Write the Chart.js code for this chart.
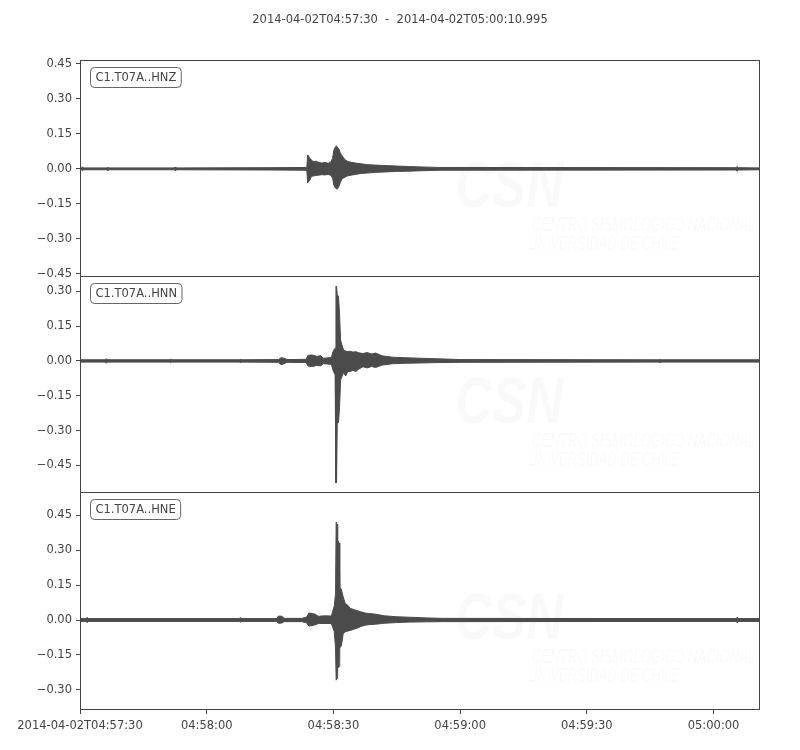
<!DOCTYPE html>
<html>
<head>
<meta charset="utf-8">
<script src="https://cdn.jsdelivr.net/npm/chart.js@4.4.1/dist/chart.umd.min.js"></script>
<style>
  body { margin: 0; background: #fff; }
  #plots { position: relative; width: 800px; height: 750px; }
  #plots canvas { position: absolute; left: 0; }
</style>
</head>
<body>
<div id="plots"></div>
<script>
var title = '2014-04-02T04:57:30  -  2014-04-02T05:00:10.995';

// x axis: seconds after 04:57:30
var xMax = 160.995;
var xTicks = [0, 30, 60, 90, 120, 150];
var xTickLabels = ['2014-04-02T04:57:30', '04:58:00', '04:58:30', '04:59:00', '04:59:30', '05:00:00'];

// Envelope of each trace (upper / lower value at each time).
var hnzTime = [0, 0.4, 0.6, 0.8, 6.4, 6.6, 6.8, 22.3, 22.5, 22.7, 45,
    53.7, 53.9, 54.1, 54.4, 54.7, 55.0, 55.4, 55.9, 56.5, 57.2, 58.0, 58.8,
    59.4, 59.8, 60.1, 60.4, 60.7, 61.0, 61.3, 61.6, 61.9, 62.3, 62.8, 63.4,
    64.2, 65.2, 66.5, 68.0, 70.0, 72.5, 75.0, 78.0, 81.0, 85.0, 155.3, 155.6, 155.9, 161];
var hnzHigh = [0.004, 0.004, 0.009, 0.004, 0.004, 0.008, 0.004, 0.004, 0.008, 0.004, 0.005,
    0.006, 0.060, 0.055, 0.045, 0.040, 0.035, 0.030, 0.033, 0.028, 0.025, 0.027, 0.024,
    0.030, 0.045, 0.080, 0.092, 0.099, 0.090, 0.085, 0.070, 0.060, 0.050, 0.038, 0.032,
    0.028, 0.025, 0.022, 0.018, 0.016, 0.014, 0.012, 0.010, 0.008, 0.006, 0.005, 0.010, 0.005, 0.004];
var hnzLow = [-0.004, -0.004, -0.008, -0.004, -0.004, -0.007, -0.004, -0.004, -0.007, -0.004, -0.005,
    -0.006, -0.060, -0.055, -0.050, -0.035, -0.032, -0.030, -0.028, -0.027, -0.025, -0.026, -0.024,
    -0.028, -0.040, -0.070, -0.080, -0.086, -0.085, -0.075, -0.060, -0.047, -0.040, -0.035, -0.030,
    -0.027, -0.024, -0.020, -0.018, -0.015, -0.013, -0.011, -0.010, -0.008, -0.006, -0.005, -0.010, -0.005, -0.004];

var hnnTime = [0, 6.0, 6.2, 6.4, 21.3, 21.5, 21.7, 37.7, 37.9, 38.1,
    47.0, 47.6, 48.3, 49.0, 53.5, 54.0, 55.0, 56.0, 57.0, 57.6,
    58.5, 59.5, 60.0, 60.4, 60.6, 60.75, 60.9, 61.2, 61.45, 61.7, 62.0, 62.4,
    62.9, 63.4, 64.0, 64.6, 65.3, 66.0, 67.0, 68.0, 69.0, 70.0, 71.5, 74.0,
    77.0, 80.0, 85.0, 90.0, 137.1, 137.3, 137.5, 161];
var hnnHigh = [0.005, 0.005, 0.010, 0.005, 0.005, 0.009, 0.005, 0.005, 0.007, 0.005,
    0.006, 0.014, 0.012, 0.006, 0.007, 0.024, 0.026, 0.020, 0.022, 0.012,
    0.013, 0.015, 0.045, 0.055, 0.323, 0.320, 0.285, 0.280, 0.200, 0.090, 0.070, 0.047,
    0.043, 0.040, 0.042, 0.038, 0.040, 0.035, 0.032, 0.036, 0.030, 0.034, 0.022, 0.016,
    0.014, 0.012, 0.009, 0.006, 0.005, 0.008, 0.005, 0.005];
var hnnLow = [-0.005, -0.005, -0.010, -0.005, -0.005, -0.008, -0.005, -0.005, -0.007, -0.005,
    -0.006, -0.016, -0.012, -0.006, -0.007, -0.022, -0.024, -0.020, -0.021, -0.012,
    -0.013, -0.015, -0.045, -0.060, -0.526, -0.520, -0.270, -0.265, -0.200, -0.082, -0.068, -0.050,
    -0.065, -0.045, -0.046, -0.040, -0.046, -0.035, -0.025, -0.030, -0.024, -0.028, -0.018, -0.012,
    -0.010, -0.009, -0.007, -0.006, -0.005, -0.008, -0.005, -0.005];

var hneTime = [0, 1.5, 1.7, 1.9, 37.7, 37.9, 38.1, 46.5, 47.0, 47.8, 48.3,
    52.5, 53.6, 54.2, 55.0, 55.8, 56.4, 58.0, 59.5, 60.2, 60.5, 60.65, 60.85,
    61.0, 61.35, 61.5, 61.9, 62.3, 62.8, 63.3, 64.0, 64.8, 65.6, 66.5, 67.5,
    68.5, 70.0, 72.0, 75.0, 78.0, 82.0, 86.0, 155.3, 155.6, 155.9, 161];
var hneHigh = [0.006, 0.006, 0.012, 0.006, 0.006, 0.010, 0.006, 0.006, 0.017, 0.016, 0.007,
    0.007, 0.012, 0.030, 0.028, 0.024, 0.016, 0.018, 0.017, 0.060, 0.115, 0.420, 0.410,
    0.343, 0.330, 0.142, 0.130, 0.100, 0.070, 0.065, 0.050, 0.045, 0.040, 0.035, 0.030,
    0.028, 0.025, 0.018, 0.014, 0.012, 0.009, 0.007, 0.006, 0.012, 0.006, 0.006];
var hneLow = [-0.006, -0.006, -0.012, -0.006, -0.006, -0.009, -0.006, -0.006, -0.014, -0.013, -0.007,
    -0.007, -0.012, -0.026, -0.024, -0.020, -0.015, -0.015, -0.015, -0.050, -0.120, -0.258, -0.250,
    -0.206, -0.200, -0.120, -0.110, -0.060, -0.050, -0.048, -0.045, -0.040, -0.035, -0.028, -0.022,
    -0.020, -0.018, -0.014, -0.011, -0.009, -0.008, -0.007, -0.006, -0.012, -0.006, -0.006];

// y ranges and ticks (equal scale on all traces)
var hnzRange = [-0.464, 0.467];
var hnnRange = [-0.569, 0.366];
var hneRange = [-0.386, 0.549];
var hnzTicks = [0.45, 0.30, 0.15, 0, -0.15, -0.30, -0.45];
var hnnTicks = [0.30, 0.15, 0, -0.15, -0.30, -0.45];
var hneTicks = [0.45, 0.30, 0.15, 0, -0.15, -0.30];

var traces = [
    {label: 'C1.T07A..HNZ', time: hnzTime, high: hnzHigh, low: hnzLow, range: hnzRange, ticks: hnzTicks},
    {label: 'C1.T07A..HNN', time: hnnTime, high: hnnHigh, low: hnnLow, range: hnnRange, ticks: hnnTicks},
    {label: 'C1.T07A..HNE', time: hneTime, high: hneHigh, low: hneLow, range: hneRange, ticks: hneTicks},
];

// canvas placement for each panel
var layout = [
    {top: 0, height: 277, padTop: 60, showX: false},
    {top: 276, height: 217, padTop: 0, showX: false},
    {top: 492, height: 258, padTop: 0, showX: true},
];

var ink = '#444444';
var traceColor = '#4b4b4b';
var markColor = 'rgba(0,0,0,0.022)';
var fontFamily = '"DejaVu Sans", sans-serif';
var fontSize = 11.5;

function fmtTick(v) {
    return (v < 0 ? '\u2212' : '') + Math.abs(v).toFixed(2);
}

function points(xs, ys) {
    var data = [];
    for (var i = 0; i < xs.length; i++) {
        data.push({x: xs[i], y: ys[i]});
    }
    return data;
}

function drawSquashed(ctx, text, x, y, width, size) {
    ctx.save();
    ctx.fillStyle = markColor;
    ctx.font = 'italic ' + size + 'px "Liberation Sans", sans-serif';
    var w = ctx.measureText(text).width;
    ctx.translate(x, y);
    ctx.scale(width / w, 1);
    ctx.fillText(text, 0, 0);
    ctx.restore();
}

// frame, label box, title and faint watermark
var decoPlugin = {
    id: 'deco',
    beforeDatasetsDraw: function(chart) {
        var a = chart.chartArea;
        var ctx = chart.ctx;
        ctx.save();
        ctx.fillStyle = markColor;
        ctx.font = 'italic bold 64px "Liberation Sans", sans-serif';
        ctx.translate(a.left + 375, a.top + 147);
        ctx.scale(0.8, 1);
        ctx.fillText('CSN', 0, 0);
        ctx.restore();
        drawSquashed(ctx, 'CENTRO SISMOLÓGICO NACIONAL', a.left + 452, a.top + 171, 223, 20);
        drawSquashed(ctx, 'UNIVERSIDAD DE CHILE', a.left + 448, a.top + 190, 152, 20);
    },
    afterDraw: function(chart) {
        var a = chart.chartArea;
        var ctx = chart.ctx;
        var opts = chart.options.plugins.deco;
        ctx.save();
        ctx.strokeStyle = ink;
        ctx.lineWidth = 1;
        ctx.strokeRect(a.left + 0.5, a.top + 0.5, a.right - a.left - 1, a.bottom - a.top - 1);

        ctx.font = fontSize + 'px ' + fontFamily;
        ctx.textBaseline = 'middle';
        var tw = ctx.measureText(opts.label).width;
        var bx = a.left + 10.5, by = a.top + 7.5, bw = tw + 10, bh = 20;
        ctx.beginPath();
        ctx.roundRect(bx, by, bw, bh, 4);
        ctx.fillStyle = '#ffffff';
        ctx.fill();
        ctx.strokeStyle = '#666666';
        ctx.stroke();
        ctx.fillStyle = ink;
        ctx.fillText(opts.label, bx + 5, by + bh / 2 + 0.5);

        if (opts.title) {
            ctx.textAlign = 'center';
            ctx.fillText(opts.title, 400, 20);
        }
        ctx.restore();
    }
};

function addPanel(elem, trace, place, idx) {
    var canvas = document.createElement('canvas');
    canvas.width = 800;
    canvas.height = place.height;
    canvas.style.top = place.top + 'px';
    elem.appendChild(canvas);

    var tickFont = {family: fontFamily, size: fontSize};
    var conf = {
        type: 'line',
        data: {
            datasets: [
                {data: points(trace.time, trace.high), fill: '+1'},
                {data: points(trace.time, trace.low), fill: false},
            ]
        },
        options: {
            responsive: false,
            animation: false,
            devicePixelRatio: 1,
            layout: {padding: {top: place.padTop, right: 40, bottom: 0, left: 0}},
            elements: {
                point: {radius: 0},
                line: {tension: 0, borderWidth: 1, borderColor: traceColor, backgroundColor: traceColor},
            },
            plugins: {
                legend: {display: false},
                tooltip: {enabled: false},
                deco: {label: trace.label, title: idx == 0 ? title : null},
            },
            scales: {
                x: {
                    type: 'linear',
                    display: place.showX,
                    min: 0,
                    max: xMax,
                    afterBuildTicks: function(scale) {
                        scale.ticks = xTicks.map(function(v) { return {value: v}; });
                    },
                    afterFit: function(scale) {
                        if (place.showX) {
                            scale.height = 40;
                        }
                    },
                    ticks: {
                        autoSkip: false,
                        maxRotation: 0,
                        padding: 5,
                        color: ink,
                        font: tickFont,
                        callback: function(v, i) { return xTickLabels[i]; },
                    },
                    grid: {drawOnChartArea: false, tickLength: 4, color: ink},
                    border: {display: false},
                },
                y: {
                    type: 'linear',
                    min: trace.range[0],
                    max: trace.range[1],
                    afterBuildTicks: function(scale) {
                        scale.ticks = trace.ticks.map(function(v) { return {value: v}; });
                    },
                    afterFit: function(scale) {
                        // panels touch each other: no room for overhanging labels
                        scale.width = 80;
                        scale.paddingTop = 0;
                        scale.paddingBottom = 0;
                    },
                    ticks: {
                        autoSkip: false,
                        padding: 4,
                        color: ink,
                        font: tickFont,
                        callback: fmtTick,
                    },
                    grid: {drawOnChartArea: false, tickLength: 4, color: ink},
                    border: {display: false},
                },
            },
        },
        plugins: [decoPlugin],
    };
    return new Chart(canvas.getContext('2d'), conf);
}

var elem = document.getElementById('plots');
for (var i = 0; i < traces.length; i++) {
    addPanel(elem, traces[i], layout[i], i);
}
</script>
</body>
</html>
